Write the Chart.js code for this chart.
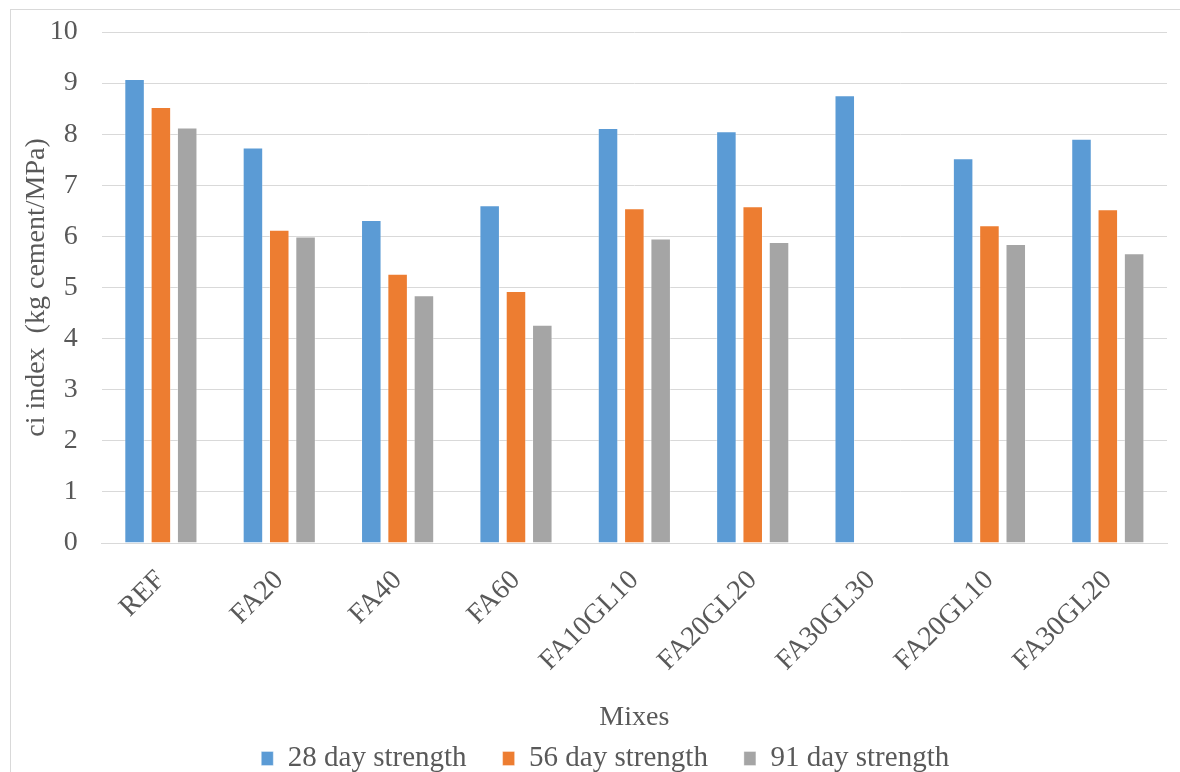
<!DOCTYPE html>
<html>
<head>
<meta charset="utf-8">
<script src="https://cdn.jsdelivr.net/npm/chart.js@4.4.1/dist/chart.umd.min.js"></script>
<style>
  html, body { margin: 0; padding: 0; background: #ffffff; }
  body { width: 1180px; height: 772px; position: relative; overflow: hidden; }
  #frame {
    position: absolute; left: 10px; top: 9px; width: 1170px; height: 763px;
    border-top: 1px solid #d9d9d9; border-left: 1px solid #d9d9d9; box-sizing: border-box;
  }
  #wrap { position: absolute; left: 0; top: 0; width: 1169px; height: 762px; }
</style>
</head>
<body>
<div id="frame"><div id="wrap"><canvas id="c"></canvas></div></div>
<script>
// Mix designs on the category axis
const mixes = ['REF', 'FA20', 'FA40', 'FA60', 'FA10GL10', 'FA20GL20', 'FA30GL30', 'FA20GL10', 'FA30GL20'];

// Cement intensity index per curing age (kg cement / MPa)
const day28 = [9.08, 7.74, 6.32, 6.61, 8.12, 8.06, 8.76, 7.53, 7.91];
const day56 = [8.53, 6.13, 5.27, 4.93, 6.55, 6.59, null, 6.22, 6.53];
const day91 = [8.13, 6.00, 4.85, 4.27, 5.96, 5.89, null, 5.85, 5.67];

const seriesNames = ['28 day strength', '56 day strength', '91 day strength'];
const yTicks = [0, 1, 2, 3, 4, 5, 6, 7, 8, 9, 10];

const FONT = 'Liberation Serif, Times New Roman, serif';
const TEXT = '#595959';
const GRID = '#d9d9d9';

function bar(label, data, color) {
  return {
    label, data,
    backgroundColor: color,
    borderColor: 'rgba(255,255,255,0.35)',
    borderWidth: 1,
    categoryPercentage: 0.667,
    barPercentage: 0.78
  };
}

new Chart(document.getElementById('c'), {
  type: 'bar',
  data: {
    labels: mixes,
    datasets: [
      bar(seriesNames[0], day28, '#5b9bd5'),
      bar(seriesNames[1], day56, '#ed7d31'),
      bar(seriesNames[2], day91, '#a5a5a5')
    ]
  },
  options: {
    responsive: true,
    maintainAspectRatio: false,
    animation: false,
    layout: { padding: { left: 32.5, right: 13, top: 22, bottom: -11 } },
    plugins: {
      tooltip: { enabled: false },
      legend: {
        position: 'bottom',
        labels: {
          font: { family: FONT, size: 29 },
          color: TEXT,
          boxWidth: 12,
          boxHeight: 14,
          padding: 36
        }
      }
    },
    scales: {
      x: {
        grid: { display: false, drawTicks: false },
        border: { display: true, color: GRID, width: 1 },
        ticks: {
          font: { family: FONT, size: 28 },
          color: TEXT,
          minRotation: 45,
          maxRotation: 45,
          padding: 21
        },
        title: {
          display: true,
          text: 'Mixes',
          font: { family: FONT, size: 28 },
          color: TEXT,
          padding: { top: 0, bottom: -26.8 }
        },
        afterFit(scale) { scale.height = 165; }
      },
      y: {
        min: 0,
        max: 10,
        afterBuildTicks(scale) { scale.ticks = yTicks.map(v => ({ value: v })); },
        grid: { color: GRID, lineWidth: 1, drawTicks: false },
        border: { display: false },
        ticks: {
          font: { family: FONT, size: 28 },
          color: TEXT,
          padding: 24
        },
        title: {
          display: true,
          text: 'ci index  (kg cement/MPa)',
          font: { family: FONT, size: 28 },
          color: TEXT,
          padding: { top: -23.3, bottom: 0 }
        },
        afterFit(scale) {
          scale.width = 58.2;
          scale.paddingTop = 0;
          scale.paddingBottom = 0;
        }
      }
    }
  }
});
</script>
</body>
</html>
